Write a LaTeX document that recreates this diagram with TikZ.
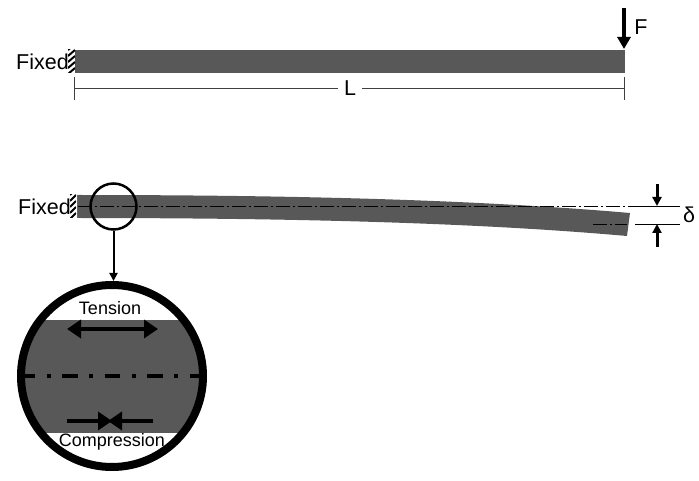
\documentclass[tikz,border=0pt]{standalone}
\usepackage{fontspec}
\setmainfont{Liberation Sans}
\usetikzlibrary{arrows.meta}
\definecolor{beamgray}{RGB}{88,88,88}
\tikzset{lbl/.style={inner sep=0pt, font=\fontsize{21.5}{22}\selectfont},
  lblsmall/.style={inner sep=0pt, font=\fontsize{18}{18}\selectfont},
  load/.style={line width=4pt, -{Triangle[length=12pt, width=13pt]}},
  gap/.style={line width=3pt, -{Triangle[length=9pt, width=9pt]}},
  big/.style={line width=4.5pt, -{Triangle[length=14pt, width=18pt]}},
  dimline/.style={line width=0.8pt, black!75},
  axisline/.style={line width=0.8pt, dash pattern=on 14pt off 3pt on 2pt off 3pt},
  hatchline/.style={line width=2pt}}

\begin{document}
\begin{tikzpicture}[x=1pt, y=-1pt]
        \useasboundingbox (0, 0) rectangle (699, 481);
        % undeformed beam
        \fill[beamgray] (75, 50) rectangle (625, 73);
        \begin{scope}
          \clip (68, 50) rectangle (75, 73);
          \foreach \y in {44, 50, ..., 74}{
            \draw[hatchline] (68, \y + 6) -- (75, \y);
          };
        \end{scope}
        \node[lbl] (fixedtop) at (42.5, 62) {Fixed};
        \coordinate (ftop) at (624, 8);
        \coordinate (fend) at (624, 49);
        \draw[load] (ftop) -- (fend);
        \node[lbl] (force) at (641, 27) {F};
        % length dimension
        \coordinate (la) at (74, 77);
        \coordinate (lb) at (74, 100);
        \coordinate (lc) at (624, 77);
        \coordinate (ld) at (624, 100);
        \coordinate (le) at (74, 88);
        \coordinate (lf) at (624, 88);
        \draw[dimline] (la) -- (lb);
        \draw[dimline] (lc) -- (ld);
        \node[lbl, fill=white, inner xsep=6pt] (length) at (350, 88) {L};
        \draw[dimline] (le) -- (length);
        \draw[dimline] (length) -- (lf);
        % deflected beam
        \fill[beamgray] (77, 195) .. controls (300, 195) and (480, 200) .. (630, 213)
          -- (627, 236) .. controls (480, 223) and (300, 218) .. (77, 218) -- cycle;
        \begin{scope}
          \clip (70, 195) rectangle (76, 218);
          \foreach \y in {189, 195, ..., 219}{
            \draw[hatchline] (70, \y + 6) -- (76, \y);
          };
        \end{scope}
        \draw[black!60, line width=0.7pt] (77, 195) -- (77, 218);
        \node[lbl] (fixedlow) at (44.5, 207) {Fixed};
        \coordinate (axa) at (78, 206);
        \coordinate (axb) at (635, 206);
        \coordinate (axc) at (593, 224);
        \coordinate (axd) at (627, 224);
        \draw[axisline] (axa) -- (axb);
        \draw[axisline] (axc) -- (axd);
        % deflection
        \coordinate (da) at (635, 206);
        \coordinate (db) at (680, 206);
        \coordinate (dc) at (635, 224);
        \coordinate (dd) at (680, 224);
        \draw[line width=0.8pt] (da) -- (db);
        \draw[line width=0.8pt] (dc) -- (dd);
        \coordinate (ua) at (657, 184);
        \coordinate (ub) at (657, 206);
        \coordinate (va) at (657, 247);
        \coordinate (vb) at (657, 224);
        \draw[gap] (ua) -- (ub);
        \draw[gap] (va) -- (vb);
        \node[lbl] (delta) at (689, 215) {δ};
        % detail
        \node[circle, draw, line width=2.5pt, minimum size=46pt, inner sep=0pt] (spot) at (113.5, 206.5) {};
        \begin{scope}
          \clip (112, 376) circle (92);
          \fill[beamgray] (0, 320) rectangle (220, 433);
        \end{scope}
        \node[circle, draw, line width=8pt, minimum size=182pt, inner sep=0pt] (zoomc) at (112, 376) {};
        \draw[line width=2pt, -{Triangle[length=8pt, width=8pt]}] (spot) -- (zoomc.north -| spot);
        \coordinate (cla) at (25, 376);
        \coordinate (clb) at (202, 376);
        \draw[line width=4pt, dash pattern=on 10pt off 11.5pt on 4pt off 11.5pt on 15.5pt off 11.5pt on 4pt off 11.5pt on 15.5pt off 11.5pt on 4pt off 11.5pt on 15.5pt off 11.5pt on 4pt off 11.5pt on 15.5pt off 1pt] (cla) -- (clb);
        \coordinate (ta) at (67, 329);
        \coordinate (tb) at (158, 329);
        \draw[big, {Triangle[length=14pt, width=18pt]}-{Triangle[length=14pt, width=18pt]}] (ta) -- (tb);
        \coordinate (ca) at (67, 421);
        \coordinate (cb) at (153, 421);
        \coordinate (cc) at (110, 421);
        \draw[big, shorten >=-2pt] (ca) -- (cc);
        \draw[big, shorten >=-2pt] (cb) -- (cc);
        \node[lblsmall] (tension) at (110, 308) {Tension};
        \node[lblsmall] (compr) at (112, 442) {Compression};
\end{tikzpicture}
\end{document}
